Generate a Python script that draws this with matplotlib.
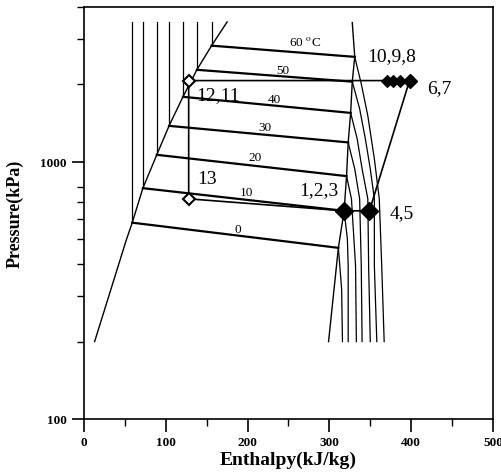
import matplotlib
matplotlib.use('Agg')
import matplotlib.pyplot as plt
from matplotlib.ticker import LogLocator, FixedLocator, NullFormatter

plt.rcParams['font.family'] = ['Liberation Serif', 'DejaVu Serif']
plt.rcParams['mathtext.fontset'] = 'stix'

# saturated liquid line (h kJ/kg, P kPa)
h_liq = [13, 52, 59, 72, 89, 104, 121, 138, 156, 175]
P_liq = [200, 500, 580, 790, 1065, 1380, 1790, 2280, 2830, 3500]

# saturated vapour line
h_vap = [328, 331, 328, 326, 323, 321, 318, 311, 299]
P_vap = [3480, 2560, 2050, 1550, 1190, 880, 645, 463, 200]

# isotherms, deg C
temps = [0, 10, 20, 30, 40, 50, 60]
# start of two-phase segment (liquid side) and end (vapour side)
iso_h_l = [59, 72, 89, 104, 121, 138, 156]
iso_P_l = [580, 790, 1065, 1380, 1790, 2280, 2830]
iso_h_v = [311, 318, 321, 323, 326, 328, 331]
iso_P_v = [463, 645, 880, 1190, 1550, 2050, 2560]
P_top = 3500

# superheated parts of the isotherms
sup_h = [
    [311, 315, 316],
    [318, 322, 323, 323],
    [321, 327, 332, 333],
    [323, 331, 337, 339, 340],
    [326, 334, 340, 347, 348, 350],
    [328, 337, 344, 350, 355, 355, 358],
    [331, 339, 347, 355, 361, 364, 367],
]
sup_P = [
    [463, 320, 200],
    [645, 502, 394, 200],
    [880, 718, 394, 200],
    [1190, 939, 718, 394, 200],
    [1550, 1229, 939, 718, 394, 200],
    [2050, 1608, 1229, 939, 718, 394, 200],
    [2560, 2010, 1510, 1027, 718, 394, 200],
]

# label positions of isotherms
iso_lab = ['0', '10', '20', '30', '40', '50', '60 $^{\\mathrm{o}}$C']
iso_lab_h = [188, 199, 209, 221, 233, 243, 270]
iso_lab_P = [549, 764, 1045, 1368, 1758, 2281, 2929]

# cycle state points
cyc_h = [128, 128, 318, 349, 398, 128]
cyc_P = [2070, 718, 645, 645, 2070, 2070]
h_1098 = [371, 378, 386]
P_high = 2070

pt_labels = ['10,9,8', '6,7', '12,11', '13', '1,2,3', '4,5']
pt_lab_h = [376, 434, 164, 151, 287, 388]
pt_lab_P = [2583, 1941, 1823, 859, 778, 633]

fig = plt.figure(figsize=(5.02, 4.77), dpi=100)
ax = fig.add_axes([0.1673, 0.1195, 0.8147, 0.8637])

ax.plot(h_liq, P_liq, color='black', lw=1.0)
ax.plot(h_vap, P_vap, color='black', lw=1.0)

for i in range(len(temps)):
    ax.plot([iso_h_l[i], iso_h_l[i]], [P_top, iso_P_l[i]], color='black', lw=0.9)
    ax.plot([iso_h_l[i], iso_h_v[i]], [iso_P_l[i], iso_P_v[i]], color='black', lw=1.6)
    ax.plot(sup_h[i], sup_P[i], color='black', lw=0.9)
    ax.text(iso_lab_h[i], iso_lab_P[i], iso_lab[i], fontsize=9.5, ha='center', va='center')

ax.plot(cyc_h, cyc_P, color='black', lw=1.2)
ax.plot([cyc_h[0]], [cyc_P[0]], 'D', ms=6, mfc='white', mec='black', mew=1.5)
ax.plot([cyc_h[1]], [cyc_P[1]], 'D', ms=6, mfc='white', mec='black', mew=1.5)
ax.plot(h_1098, [P_high] * 3, 'D', ms=6.5, mfc='black', mec='black', mew=0.8)
ax.plot([cyc_h[4]], [cyc_P[4]], 'D', ms=7, color='black')
ax.plot(cyc_h[2:4], cyc_P[2:4], 'D', ms=9, color='black')

for i in range(len(pt_labels)):
    ax.text(pt_lab_h[i], pt_lab_P[i], pt_labels[i], fontsize=14, ha='center', va='center')

ax.set_yscale('log')
ax.set_xlim(0, 500)
ax.set_ylim(100, 4000)

ax.xaxis.set_major_locator(FixedLocator([0, 100, 200, 300, 400, 500]))
ax.xaxis.set_minor_locator(FixedLocator([50, 150, 250, 350, 450]))
ax.yaxis.set_major_locator(FixedLocator([100, 1000]))
ax.yaxis.set_minor_locator(LogLocator(base=10, subs=[2, 3, 4, 5, 6, 7, 8]))
ax.yaxis.set_minor_formatter(NullFormatter())
ax.set_yticklabels(['100', '1000'])
ax.tick_params(which='major', length=9, width=1.2, labelsize=9.5, direction='out')
ax.tick_params(which='minor', length=5, width=1.0, direction='out')
for lab in ax.get_xticklabels() + ax.get_yticklabels():
    lab.set_fontweight('bold')
for s in ax.spines.values():
    s.set_linewidth(1.2)

ax.set_xlabel('Enthalpy(kJ/kg)', fontsize=14, fontweight='bold', labelpad=2)
ax.set_ylabel('Pressure(kPa)', fontsize=13, fontweight='bold', labelpad=12)

fig.savefig('out.png', dpi=100)
